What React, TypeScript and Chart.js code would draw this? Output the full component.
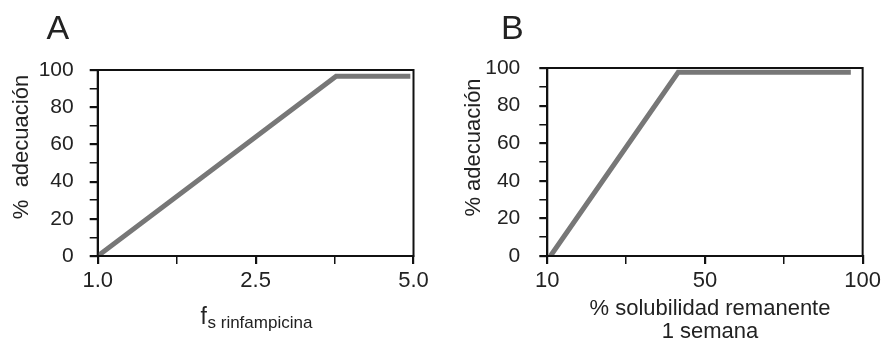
import React, { useEffect, useRef } from 'react';
import { Chart, registerables } from 'chart.js';
Chart.register(...registerables);

// ---- data ----
// x positions are in axis-tick units (the axes have evenly spaced ticks)
const xTickLabelsA = ['1.0', '', '2.5', '', '5.0'];
const xPosA = [0, 3.02, 3.96];
const yValA = [0, 96.7, 96.7];

const xTickLabelsB = ['10', '', '50', '', '100'];
const xPosB = [0.04, 1.66, 3.85];
const yValB = [0, 97.7, 97.7];

const yMin = 0;
const yMax = 100;
const yMinorStep = 10;
const yLabelStep = 20;

const yTitleA = '%  adecuación';
const yTitleB = '% adecuación';
const xTitleMainA = 'f';
const xTitleSubA = 's rinfampicina';
const xTitleLinesB = ['% solubilidad remanente', '1 semana'];

const FONT = '"Liberation Sans", Arial, sans-serif';
const TEXT = '#222';
const LINE = '#777';

type PanelCfg = {
  id: string;
  width: number;
  area: { left: number; top: number; right: number; bottom: number };
  xLabels: string[];
  xs: number[];
  ys: number[];
  letter: string;
  letterX: number;
  letterY: number;
  yTitle: string;
  yTitleX: number;
  yTitleY: number;
  yTickPad: number;
  drawXTitle: (ctx: CanvasRenderingContext2D) => void;
};

const H = 342;

const panels: PanelCfg[] = [
  {
    id: 'A',
    width: 440,
    area: { left: 97.7, top: 70, right: 413.5, bottom: 256 },
    xLabels: xTickLabelsA,
    xs: xPosA,
    ys: yValA,
    letter: 'A',
    letterX: 46.5,
    letterY: 38.5,
    yTitle: yTitleA,
    yTitleX: 28,
    yTitleY: 147,
    yTickPad: 16,
    drawXTitle: (ctx) => {
      ctx.textAlign = 'left';
      ctx.textBaseline = 'alphabetic';
      ctx.font = `23px ${FONT}`;
      ctx.fillText(xTitleMainA, 200.5, 323.5);
      ctx.font = `17px ${FONT}`;
      ctx.fillText(xTitleSubA, 207.5, 327.5);
    },
  },
  {
    id: 'B',
    width: 445,
    area: { left: 107.3, top: 68, right: 423.3, bottom: 256 },
    xLabels: xTickLabelsB,
    xs: xPosB,
    ys: yValB,
    letter: 'B',
    letterX: 61,
    letterY: 38.5,
    yTitle: yTitleB,
    yTitleX: 40,
    yTitleY: 147.5,
    yTickPad: 19,
    drawXTitle: (ctx) => {
      ctx.textAlign = 'center';
      ctx.textBaseline = 'alphabetic';
      ctx.font = `22px ${FONT}`;
      ctx.fillText(xTitleLinesB[0], 270, 315);
      ctx.fillText(xTitleLinesB[1], 270, 338);
    },
  },
];

function Panel({ cfg, left }: { cfg: PanelCfg; left: number }) {
  const ref = useRef<HTMLCanvasElement | null>(null);
  useEffect(() => {
    if (!ref.current) return;
    const a = cfg.area;
    const decor = {
      id: 'decor' + cfg.id,
      beforeDraw(chart: any) {
        const ctx = chart.ctx;
        ctx.save();
        ctx.fillStyle = '#fff';
        ctx.fillRect(0, 0, chart.width, chart.height);
        ctx.restore();
      },
      afterDraw(chart: any) {
        const ctx: CanvasRenderingContext2D = chart.ctx;
        const ca = chart.chartArea;
        ctx.save();
        ctx.strokeStyle = '#111';
        ctx.lineWidth = 2;
        ctx.strokeRect(ca.left, ca.top, ca.right - ca.left, ca.bottom - ca.top);
        ctx.fillStyle = TEXT;
        ctx.font = `34px ${FONT}`;
        ctx.textAlign = 'left';
        ctx.textBaseline = 'alphabetic';
        ctx.fillText(cfg.letter, cfg.letterX, cfg.letterY);
        ctx.save();
        ctx.translate(cfg.yTitleX, cfg.yTitleY);
        ctx.rotate(-Math.PI / 2);
        ctx.font = `22px ${FONT}`;
        ctx.textAlign = 'center';
        ctx.textBaseline = 'alphabetic';
        ctx.fillText(cfg.yTitle, 0, 0);
        ctx.restore();
        cfg.drawXTitle(ctx);
        ctx.restore();
      },
    };
    const chart = new Chart(ref.current, {
      type: 'line',
      data: {
        datasets: [
          {
            data: cfg.xs.map((x, i) => ({ x, y: cfg.ys[i] })),
            borderColor: LINE,
            borderWidth: 5,
            pointRadius: 0,
            tension: 0,
            fill: false,
          },
        ],
      },
      options: {
        responsive: false,
        animation: false,
        events: [],
        layout: { padding: { left: 0, top: a.top, right: cfg.width - a.right, bottom: 0 } },
        plugins: { legend: { display: false }, tooltip: { enabled: false } },
        scales: {
          x: {
            type: 'linear',
            min: 0,
            max: cfg.xLabels.length - 1,
            afterFit: (s: any) => {
              s.height = H - a.bottom;
            },
            afterBuildTicks: (s: any) => {
              s.ticks = cfg.xLabels.map((_, i) => ({ value: i }));
            },
            ticks: {
              autoSkip: false,
              maxRotation: 0,
              padding: 4,
              color: TEXT,
              font: { family: FONT, size: 22 },
              callback: (v: any) => cfg.xLabels[Math.round(Number(v))] ?? '',
            },
            grid: {
              drawOnChartArea: false,
              drawTicks: true,
              tickLength: 8,
              color: '#111',
              lineWidth: (c: any) => (c.index % 2 === 0 ? 2.2 : 1.5),
            },
            border: { display: true, color: '#111', width: 2 },
          },
          y: {
            type: 'linear',
            min: yMin,
            max: yMax,
            afterFit: (s: any) => {
              s.width = a.left;
            },
            ticks: {
              stepSize: yMinorStep,
              autoSkip: false,
              padding: cfg.yTickPad,
              color: TEXT,
              font: { family: FONT, size: 21 },
              callback: (v: any) => (Number(v) % yLabelStep === 0 ? String(v) : ''),
            },
            grid: {
              drawOnChartArea: false,
              drawTicks: true,
              tickLength: 8,
              color: '#111',
              lineWidth: (c: any) => (c.tick && c.tick.value % yLabelStep === 0 ? 2.2 : 1.5),
            },
            border: { display: true, color: '#111', width: 2 },
          },
        },
      },
      plugins: [decor],
    } as any);
    return () => chart.destroy();
  }, [cfg]);
  return (
    <canvas
      ref={ref}
      width={cfg.width}
      height={H}
      style={{ position: 'absolute', left, top: 0, width: cfg.width, height: H }}
    />
  );
}

export default function App() {
  return (
    <div style={{ position: 'absolute', left: 0, top: 0, width: 885, height: H, background: '#fff' }}>
      <Panel cfg={panels[0]} left={0} />
      <Panel cfg={panels[1]} left={440} />
    </div>
  );
}
